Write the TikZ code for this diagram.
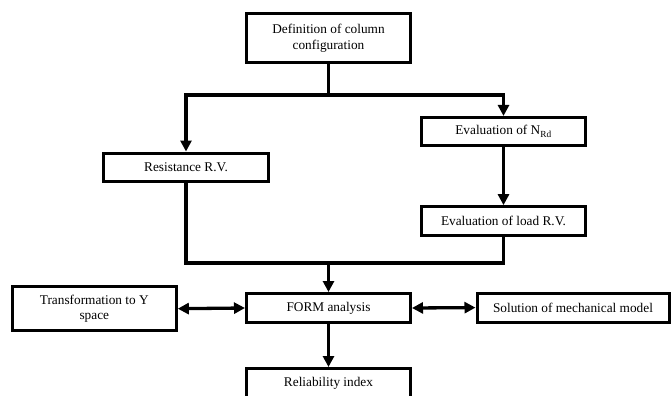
\documentclass[tikz,border=0pt]{standalone}
\usepackage{fontspec}
\setmainfont{Liberation Serif}
\usetikzlibrary{arrows.meta}
\begin{document}
\begin{tikzpicture}[x=1pt,y=-1pt,
  box/.style={draw=black,line width=3pt,fill=white,align=center,inner sep=2pt,
    font=\fontsize{13.3}{15.6}\selectfont},
  conn/.style={line width=3.3pt,line join=miter},
  arr/.style={conn,-{Triangle[length=11pt,width=11pt]}},
  darr/.style={conn,{Triangle[length=11pt,width=11pt]}-{Triangle[length=11pt,width=11pt]}}]
\useasboundingbox (0,0) rectangle (672,396);
\clip (0,0) rectangle (672,396);
\node[box,minimum width=164pt,minimum height=49pt] (top) at (328.5,38) {Definition of column\\configuration};
\node[box,minimum width=164pt,minimum height=27.7pt] (nrd) at (503.5,131.3) {Evaluation of N\textsubscript{Rd}};
\node[box,minimum width=165pt,minimum height=28pt] (res) at (186,167) {Resistance R.V.};
\node[box,minimum width=164pt,minimum height=28.7pt] (load) at (503.5,221) {Evaluation of load R.V.};
\node[box,minimum width=164pt,minimum height=29pt] (form) at (328.5,308) {FORM analysis};
\node[box,minimum width=164pt,minimum height=44pt] (trans) at (94.3,308.7) {Transformation to Y\\space};
\node[box,minimum width=192pt,minimum height=28.8pt] (sol) at (573,307.6) {Solution of mechanical model};
\node[box,minimum width=164pt,minimum height=30pt] (rel) at (328.5,383.5) {Reliability index};
\coordinate (j1) at (328.5,95);
\coordinate (j2) at (328.5,263);
\draw[conn] (top.south) -- (j1);
\draw[arr] (j1) -| (res.north);
\draw[arr] (j1) -| (nrd.north);
\draw[arr] (nrd.south) -- (load.north);
\draw[conn] (res.south) |- (j2);
\draw[conn] (load.south) |- (j2);
\draw[arr] (j2) -- (form.north);
\draw[darr] (trans.east) -- (form.west);
\draw[darr] (form.east) -- (sol.west);
\draw[arr] (form.south) -- (rel.north);
\end{tikzpicture}
\end{document}
